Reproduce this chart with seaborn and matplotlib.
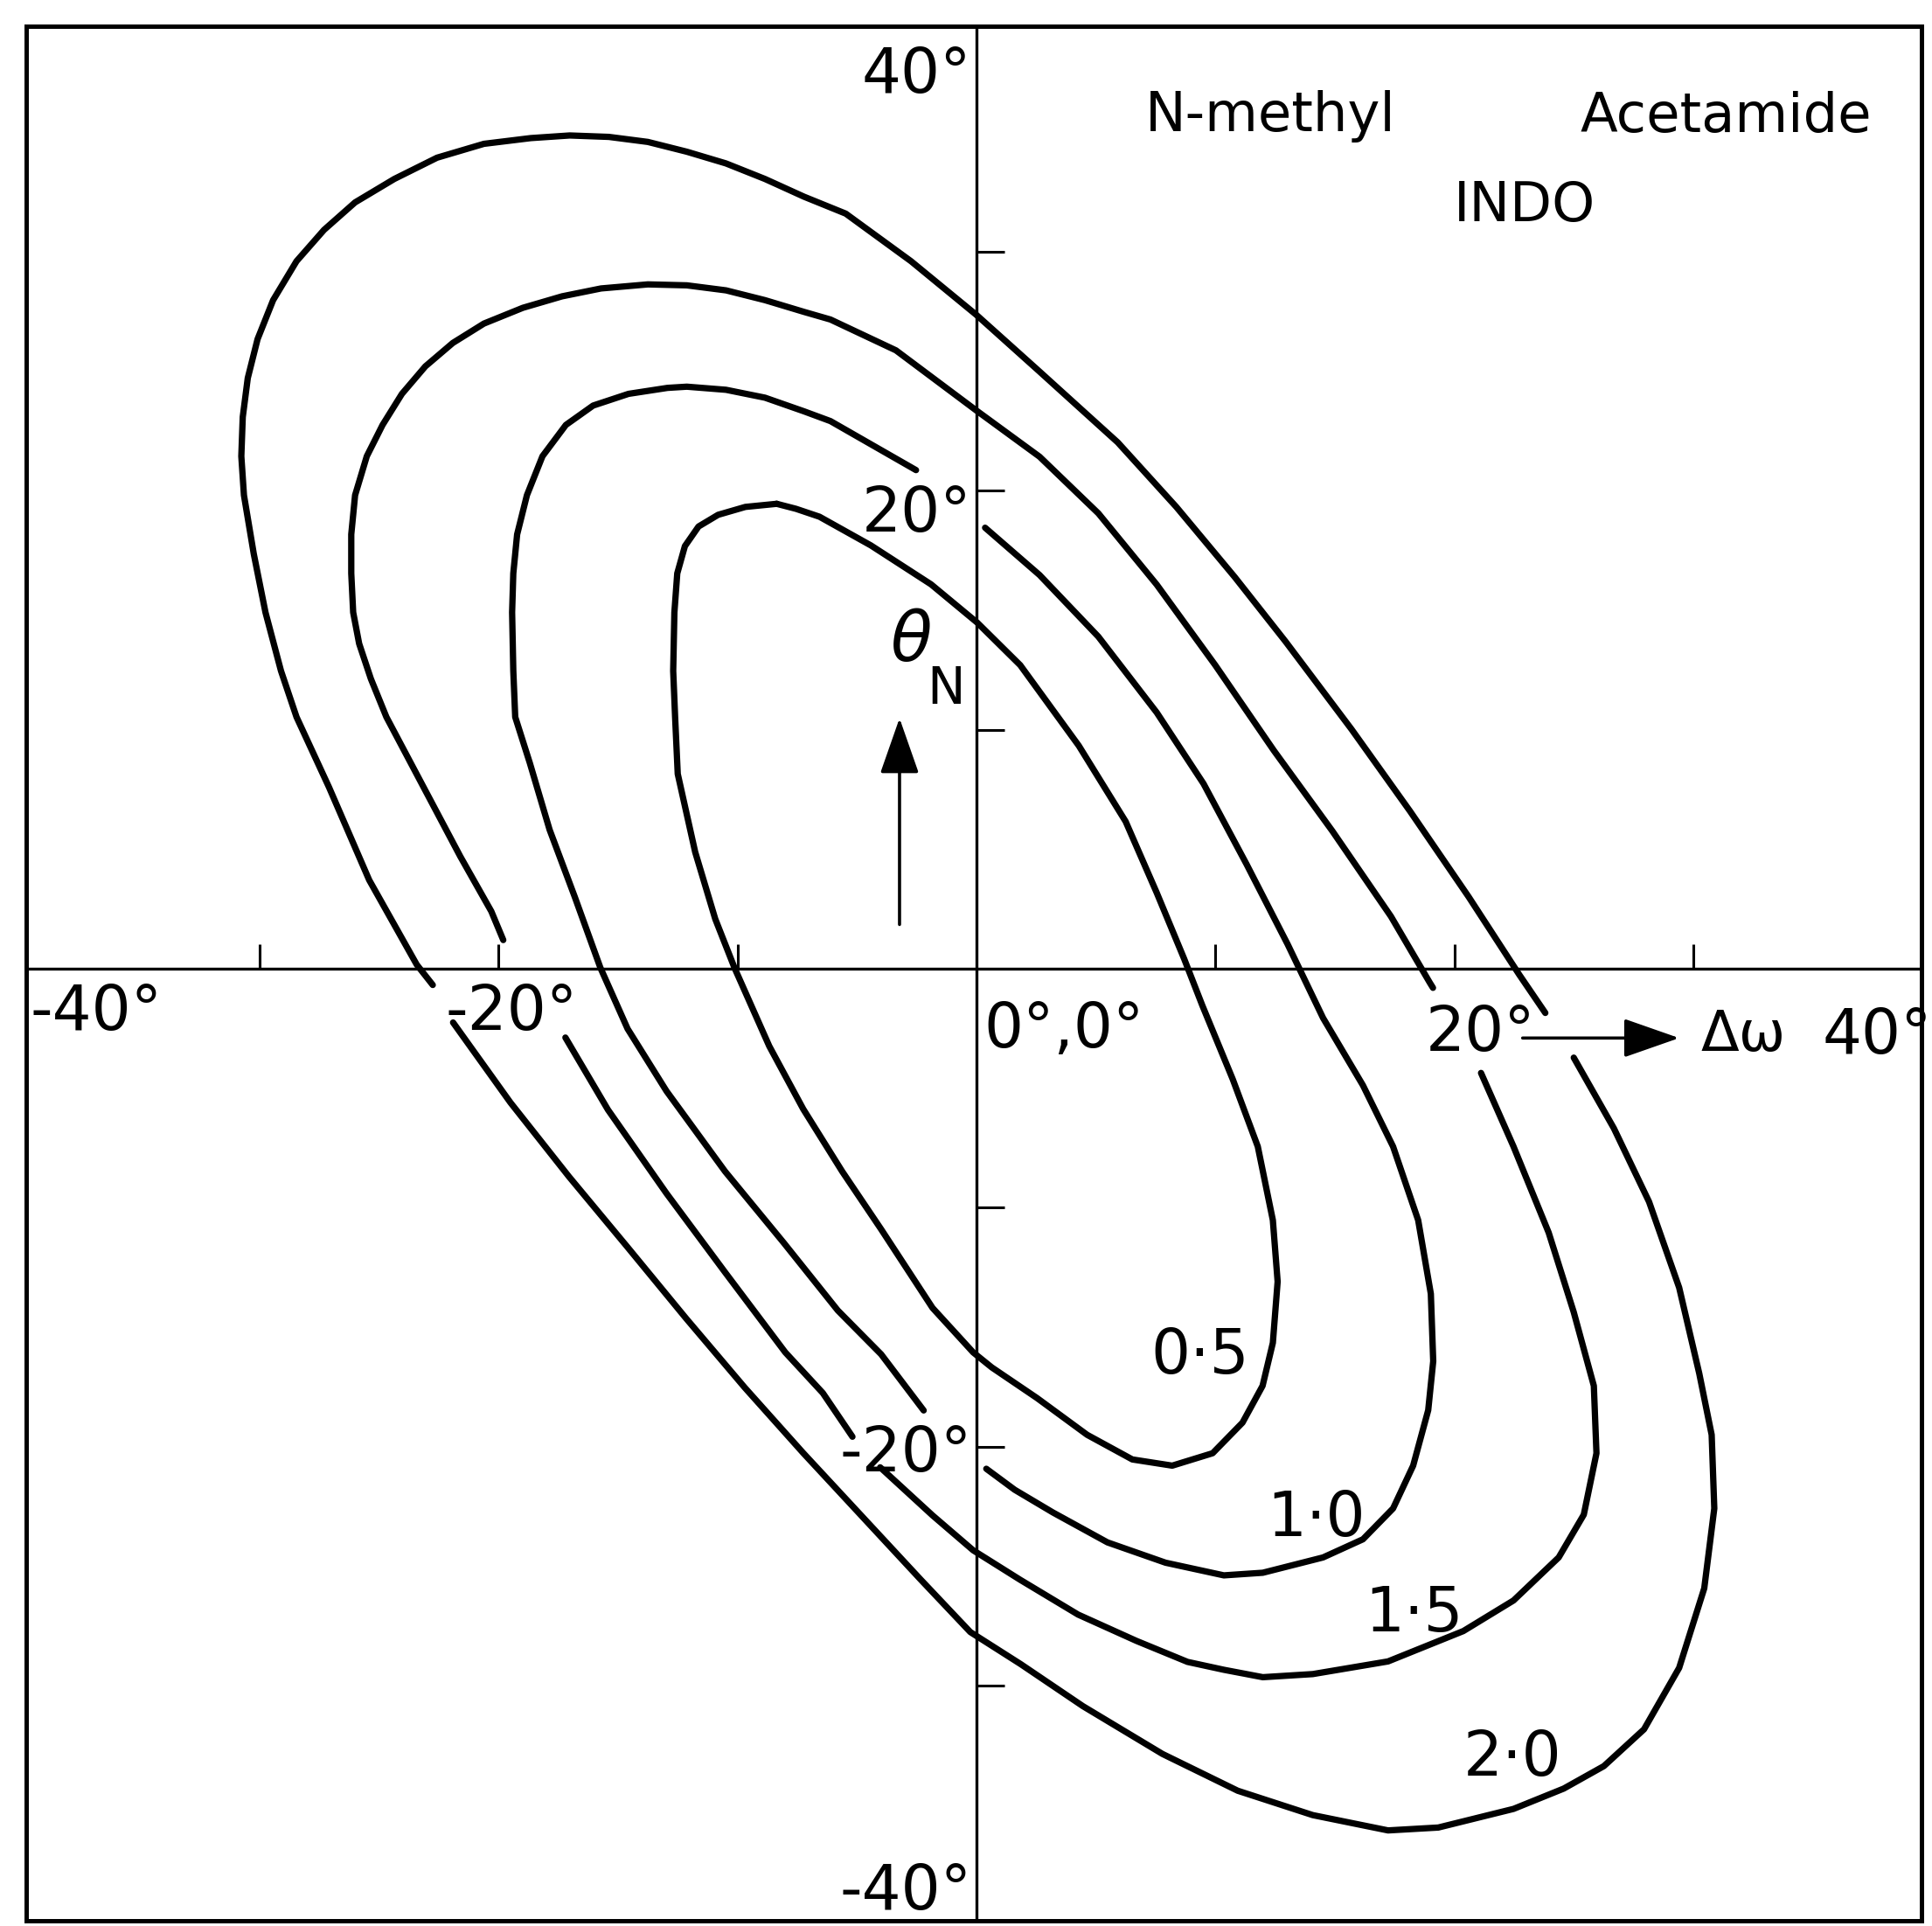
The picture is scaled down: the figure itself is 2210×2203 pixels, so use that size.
import matplotlib
matplotlib.use("Agg")
import matplotlib.pyplot as plt
from matplotlib.patches import Rectangle
import pandas as pd
import seaborn as sns

# Energy contours of N-methyl acetamide (INDO) over the (Δω, θN) plane, degrees.
# Each contour is stored as the open pieces in which it is drawn.

# 0.5 contour (closed loop)
c05_dw = [-8.36, -7.55, -6.57, -4.42, -1.90, 0.03, 1.83, 4.28, 6.24, 7.54, 8.69, 9.45,
          10.72, 11.77, 12.40, 12.60, 12.40, 11.97, 11.13, 9.88, 8.19, 6.52, 4.63, 2.53,
          0.64, -0.14, -1.84, -3.99, -5.62, -7.25, -8.67, -10.13, -10.93, -11.77, -12.50,
          -12.61, -12.69, -12.64, -12.52, -12.20, -11.63, -10.81, -9.67, -8.36]
c05_th = [19.45, 19.24, 18.91, 17.71, 16.08, 14.48, 12.70, 9.33, 6.16, 3.18, 0.41, -1.54,
          -4.62, -7.44, -10.52, -13.09, -15.65, -17.45, -18.99, -20.27, -20.79, -20.53,
          -19.50, -17.96, -16.68, -16.05, -14.19, -10.90, -8.48, -5.87, -3.24, 0.05, 2.08,
          4.88, 8.15, 10.53, 12.46, 14.91, 16.54, 17.68, 18.50, 18.99, 19.32, 19.45]

# 1.0 contour, upper-left piece and lower-right piece
c10a_dw = [-2.53, -6.11, -7.22, -8.85, -10.48, -12.12, -12.93, -14.56, -16.04, -17.18,
           -18.16, -18.81, -19.22, -19.38, -19.43, -19.38, -19.30, -18.69, -17.86, -16.81,
           -15.74, -14.60, -12.97, -10.52, -8.07, -5.80, -3.99, -2.21]
c10a_th = [20.86, 22.91, 23.32, 23.89, 24.22, 24.35, 24.30, 24.05, 23.56, 22.75, 21.44,
           19.81, 18.17, 16.54, 14.91, 12.46, 10.53, 8.61, 5.81, 3.01, 0.05, -2.51, -5.12,
           -8.48, -11.46, -14.30, -16.13, -18.48]
c10b_dw = [0.41, 1.60, 3.20, 5.48, 7.91, 10.35, 11.98, 14.50, 16.17, 17.43, 18.27, 18.90,
           19.11, 19.01, 18.48, 17.43, 16.17, 14.50, 13.02, 11.30, 9.50, 7.54, 5.10, 2.64,
           0.36]
c10b_th = [-20.92, -21.80, -22.75, -24.00, -24.85, -25.38, -25.27, -24.63, -23.87, -22.58,
           -20.79, -18.47, -16.42, -13.60, -10.52, -7.44, -4.88, -2.06, 1.02, 4.37, 7.74,
           10.72, 13.89, 16.47, 18.45]

# 1.5 contour, three pieces
c15a_dw = [-19.80, -20.30, -21.60, -24.69, -25.34, -25.83, -26.08, -26.16, -26.16, -26.00,
           -25.51, -24.85, -24.04, -23.06, -21.91, -20.61, -18.98, -17.34, -15.71, -13.75,
           -12.12, -10.48, -8.85, -7.22, -6.11, -3.37, 0.00, 2.64, 5.10, 7.54, 9.99, 12.44,
           14.89, 17.34, 18.97, 19.10]
c15a_th = [1.20, 2.40, 4.70, 10.53, 12.13, 13.60, 14.91, 16.54, 18.17, 19.81, 21.44, 22.75,
           24.05, 25.20, 26.18, 26.99, 27.65, 28.13, 28.46, 28.63, 28.59, 28.38, 27.97,
           27.48, 27.16, 25.87, 23.35, 21.42, 19.05, 16.07, 12.70, 9.13, 5.76, 2.19, -0.59,
           -0.80]
c15b_dw = [21.11, 22.47, 23.94, 24.99, 25.83, 25.94, 25.41, 24.36, 22.47, 20.37, 17.22,
           14.07, 11.98, 10.35, 8.83, 6.69, 4.25, 1.82, -0.14, -1.84, -4.03]
c15b_th = [-4.36, -7.44, -11.04, -14.37, -17.45, -20.27, -22.84, -24.63, -26.43, -27.71,
           -28.98, -29.51, -29.64, -29.33, -29.00, -28.12, -27.02, -25.56, -24.33, -22.87,
           -20.86]
c15c_dw = [-17.20, -15.42, -12.97, -10.52, -8.00, -6.43, -5.19]
c15c_th = [-2.88, -5.90, -9.40, -12.70, -16.05, -17.75, -19.58]

# 2.0 contour, upper arc and lower-right arc
c20a_dw = [-22.75, -23.42, -25.41, -27.09, -28.45, -29.10, -29.75, -30.24, -30.65, -30.76,
           -30.70, -30.49, -30.08, -29.43, -28.45, -27.30, -26.00, -24.36, -22.57, -20.61,
           -18.65, -17.02, -15.38, -13.75, -12.12, -10.48, -8.85, -7.22, -5.47, -2.74, 0.00,
           2.63, 5.91, 8.36, 10.81, 12.93, 15.69, 18.14, 20.59, 22.71, 23.80]
c20a_th = [-0.68, 0.17, 3.71, 7.59, 10.53, 12.46, 14.91, 17.36, 19.81, 21.44, 23.08, 24.71,
           26.34, 27.97, 29.60, 30.91, 32.06, 33.04, 33.93, 34.51, 34.75, 34.86, 34.80,
           34.59, 34.18, 33.69, 33.04, 32.30, 31.59, 29.60, 27.35, 24.99, 22.02, 19.32,
           16.38, 13.69, 10.02, 6.59, 3.01, -0.25, -1.85]
c20b_dw = [24.99, 26.67, 28.14, 29.40, 30.24, 30.76, 30.87, 30.45, 29.40, 27.93, 26.25,
           24.57, 22.47, 19.32, 17.22, 14.07, 10.93, 7.78, 4.45, 1.86, -0.26, -2.35, -4.80,
           -7.25, -9.70, -12.15, -14.60, -17.05, -19.50, -21.90]
c20b_th = [-3.72, -6.68, -9.75, -13.34, -16.93, -19.50, -22.58, -25.92, -29.25, -31.82,
           -33.36, -34.30, -35.15, -35.93, -36.05, -35.41, -34.39, -32.85, -30.85, -29.10,
           -27.75, -25.54, -22.90, -20.26, -17.52, -14.63, -11.65, -8.70, -5.60, -2.25]

contour_levels = ["0·5", "1·0", "1·5", "2·0"]
axis_ticks = [-30, -20, -10, 10, 20, 30]

pieces = [
    ("0.5", c05_dw, c05_th),
    ("1.0a", c10a_dw, c10a_th), ("1.0b", c10b_dw, c10b_th),
    ("1.5a", c15a_dw, c15a_th), ("1.5b", c15b_dw, c15b_th), ("1.5c", c15c_dw, c15c_th),
    ("2.0a", c20a_dw, c20a_th), ("2.0b", c20b_dw, c20b_th),
]
df = pd.concat(
    [pd.DataFrame({"dw": dw, "theta": th, "piece": name}) for name, dw, th in pieces],
    ignore_index=True,
)

sns.set_theme(style="white")
plt.rcParams["font.family"] = ["DejaVu Sans"]
plt.rcParams["text.color"] = "black"

fig = plt.figure(figsize=(22.10, 22.03), dpi=100)
ax = fig.add_axes([0.01357, 0.00272, 0.98100, 0.98366])

sns.lineplot(data=df, x="dw", y="theta", units="piece", estimator=None, sort=False,
             color="black", legend=False, ax=ax)
for line in ax.lines:
    line.set_linewidth(5.2)
    line.set_solid_capstyle("round")
    line.set_solid_joinstyle("round")

ax.set_xlim(-39.76, 39.54)
ax.set_ylim(-39.83, 39.43)
ax.set_xlabel("")
ax.set_ylabel("")

# axes crossing at the origin, outer frame around the whole plane
for side in ["top", "right"]:
    ax.spines[side].set_visible(False)
for side in ["left", "bottom"]:
    ax.spines[side].set_position(("data", 0))
    ax.spines[side].set_color("black")
    ax.spines[side].set_linewidth(2.4)
ax.add_patch(Rectangle((0, 0), 1, 1, transform=ax.transAxes, fill=False,
                       ec="black", lw=3.6, clip_on=False, zorder=5))

ax.set_xticks(axis_ticks)
ax.set_yticks(axis_ticks)
ax.set_xticklabels([])
ax.set_yticklabels([])
ax.tick_params(axis="x", direction="in", length=20, width=2.2, color="black", bottom=True)
ax.tick_params(axis="y", direction="in", length=23, width=2.2, color="black", left=True)

num = dict(fontsize=51, color="black", va="baseline")

# θN axis labels
ax.text(-0.2, 36.65, "40°", ha="right", **num)
ax.text(-0.2, 18.29, "20°", ha="right", **num)
ax.text(-0.2, -21.03, "-20°", ha="right", **num)
ax.text(-0.2, -39.35, "-40°", ha="right", **num)

# Δω axis labels
ax.text(-39.61, -2.55, "-40°", ha="left", **num)
ax.text(-19.44, -2.57, "-20°", ha="center", **num)
ax.text(3.66, -3.30, "0°,0°", ha="center", **num)
ax.text(21.10, -3.45, "20°", ha="center", **num)
ax.text(30.29, -3.45, "Δω", ha="left", fontsize=46, color="black", va="baseline")
ax.text(35.40, -3.55, "40°", ha="left", **num)

arrow = dict(arrowstyle="-|>,head_length=0.8,head_width=0.28", mutation_scale=50,
             lw=2.6, color="black", shrinkA=0, shrinkB=0)
ax.annotate("", xy=(29.4, -2.9), xytext=(22.85, -2.9), arrowprops=arrow)
ax.annotate("", xy=(-3.22, 10.48), xytext=(-3.22, 1.85), arrowprops=arrow)

ax.text(-2.74, 13.68, "θ", fontsize=56, fontstyle="italic", color="black",
        ha="center", va="center")
ax.text(-1.28, 11.70, "N", fontsize=42, color="black", ha="center", va="center")

# title
title = dict(fontsize=45, color="black", ha="center", va="baseline")
ax.text(12.31, 35.04, "N-methyl", **title)
ax.text(31.36, 35.0, "Acetamide", **title)
ax.text(22.95, 31.27, "INDO", **title)

# contour values
label_pos = [(9.35, -16.93), (14.23, -23.74), (18.32, -27.71), (22.42, -33.74)]
for text, (lx, ly) in zip(contour_levels, label_pos):
    ax.text(lx, ly, text, ha="center", **num)

fig.savefig("out.png", dpi=100, facecolor="white")
